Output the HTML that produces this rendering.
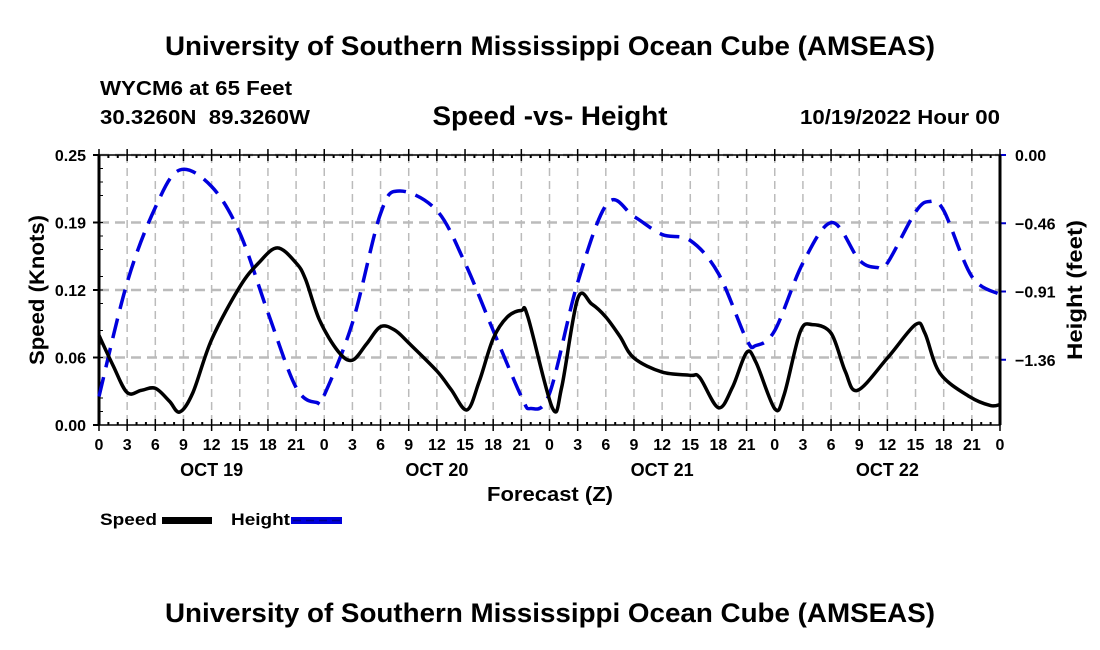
<!DOCTYPE html>
<html><head><meta charset="utf-8"><style>
html,body{margin:0;padding:0;background:#fff;}
svg{display:block;font-family:"Liberation Sans",Arial,sans-serif;font-weight:bold;}
</style></head><body>
<svg id="chart" width="1100" height="650" viewBox="0 0 1100 650">
<text x="550" y="55" font-size="27" text-anchor="middle" textLength="770" lengthAdjust="spacingAndGlyphs">University of Southern Mississippi Ocean Cube (AMSEAS)</text>
<text x="100" y="95" font-size="20" textLength="192" lengthAdjust="spacingAndGlyphs">WYCM6 at 65 Feet</text>
<text x="100" y="124" font-size="20" textLength="210" lengthAdjust="spacingAndGlyphs">30.3260N&#160;&#160;89.3260W</text>
<text x="550" y="125" font-size="27" text-anchor="middle" textLength="235" lengthAdjust="spacingAndGlyphs">Speed -vs- Height</text>
<text x="1000" y="124" font-size="20" text-anchor="end" textLength="200" lengthAdjust="spacingAndGlyphs">10/19/2022 Hour 00</text>
<g id="grid"></g>
<g id="axes"></g>
<g id="series"></g>
<text x="550" y="501" font-size="20" text-anchor="middle" textLength="126" lengthAdjust="spacingAndGlyphs">Forecast (Z)</text>
<text transform="translate(44,290) rotate(-90)" font-size="21" text-anchor="middle" textLength="150" lengthAdjust="spacingAndGlyphs">Speed (Knots)</text>
<text transform="translate(1082,290) rotate(-90)" font-size="21" text-anchor="middle" textLength="140" lengthAdjust="spacingAndGlyphs">Height (feet)</text>
<g>
<text x="100" y="525" font-size="17" textLength="57" lengthAdjust="spacingAndGlyphs">Speed</text>
<rect x="162" y="517" width="50" height="7" fill="#000"/>
<text x="231" y="525" font-size="17" textLength="59" lengthAdjust="spacingAndGlyphs">Height</text>
<rect x="291" y="517" width="51" height="7" fill="#0000dd"/>
<line x1="293" y1="520.5" x2="342" y2="520.5" stroke="#000088" stroke-width="1.5" stroke-dasharray="8,5"/>
</g>
<text x="550" y="622" font-size="27" text-anchor="middle" textLength="770" lengthAdjust="spacingAndGlyphs">University of Southern Mississippi Ocean Cube (AMSEAS)</text>
</svg>
<script>
const speedHours=[0,1.5,3,4.5,6,7.5,8.6,10,12,15,17,19,21,22,23.5,25.5,27,28.5,30,31.5,33,36,37.5,39.2,40.5,42,43.5,45,45.7,48.3,49.3,51,52.5,54,55.5,57,60,63,64,66,67.5,69,70,72,73,74.7,76,78,79.5,80.8,84,87,88,89.6,92.8,95,96];
const speedValues=[0.083,0.055,0.030,0.032,0.034,0.022,0.012,0.030,0.079,0.128,0.150,0.164,0.150,0.135,0.097,0.068,0.060,0.075,0.091,0.088,0.076,0.050,0.033,0.014,0.040,0.080,0.100,0.106,0.100,0.016,0.035,0.117,0.112,0.100,0.082,0.062,0.049,0.046,0.044,0.016,0.035,0.067,0.058,0.015,0.028,0.086,0.093,0.085,0.050,0.032,0.062,0.093,0.085,0.048,0.026,0.018,0.019];
const heightHours=[0,3,6,8.6,12,15,18,21,23.2,24,27,30,32,36,39,42,45,46,48,51,54.2,57,60,63,66,69,70,72,75,78.1,81,82.9,84,87,88.5,90,93,96];
const heightValues=[-1.61,-0.85,-0.35,-0.10,-0.21,-0.52,-1.05,-1.55,-1.65,-1.60,-1.12,-0.39,-0.24,-0.37,-0.72,-1.17,-1.61,-1.69,-1.59,-0.85,-0.32,-0.41,-0.53,-0.57,-0.79,-1.23,-1.27,-1.17,-0.72,-0.45,-0.70,-0.75,-0.72,-0.38,-0.31,-0.37,-0.81,-0.93];
const leftTicks=[0,0.0625,0.125,0.1875,0.25];
const leftTickLabels=["0.00","0.06","0.12","0.19","0.25"];
const rightTicks=[0,-0.455,-0.91,-1.365];
const rightTickLabels=["0.00","\u22120.46","\u22120.91","\u22121.36"];
const dayLabels=["OCT 19","OCT 20","OCT 21","OCT 22"];
const hourLabels=["0","3","6","9","12","15","18","21"];

const X0=99,X1=1000,Y0=425,Y1=155,HMAX=96;
const xs=h=>X0+(X1-X0)*h/HMAX;
const yl=v=>Y0-(Y0-Y1)*v/0.25;
const yr=v=>Y1+(Y0-Y1)*(-v)/1.8;
const NS="http://www.w3.org/2000/svg";
function mk(tag,attrs,parent){const e=document.createElementNS(NS,tag);for(const k in attrs)e.setAttribute(k,attrs[k]);parent.appendChild(e);return e;}
const grid=document.getElementById('grid'),axes=document.getElementById('axes'),series=document.getElementById('series');

for(let h=3;h<HMAX;h+=3){
  const l=mk('line',{x1:xs(h),x2:xs(h),y1:Y1,y2:Y0,stroke:'#bbb','stroke-width':1.5,'stroke-dasharray':'8,5'},grid);
  
  
}
leftTicks.forEach((v,i)=>{
  if(i>0){const l=mk('line',{x1:X0,x2:X1,y1:yl(v),y2:yl(v),stroke:'#bbb','stroke-width':2.5,'stroke-dasharray':'10,6'},grid);
  
  }
  const t=mk('line',{x1:X0-6,x2:X0,y1:yl(v),y2:yl(v),stroke:'#000','stroke-width':2},axes);
  
  
  const tx=mk('text',{x:X0-13,y:yl(v)+6,'font-size':16,'text-anchor':'end'},axes);
  tx.textContent=leftTickLabels[i];
  
  
});
for(let k=1;k<20;k++){if(k%4===0)continue;const v=0.25*k/20;
  const t=mk('line',{x1:X0,x2:X0+4,y1:yl(v),y2:yl(v),stroke:'#000','stroke-width':1},axes);
  
  }
rightTicks.forEach((v,i)=>{
  const t=mk('line',{x1:X1,x2:X1+6,y1:yr(v),y2:yr(v),stroke:'#0000cc','stroke-width':2},axes);
  
  
  const tx=mk('text',{x:X1+15,y:yr(v)+6,'font-size':16},axes);
  tx.textContent=rightTickLabels[i];
  
  
});
for(let h=0;h<=HMAX;h++){
  const major=h%3===0;
  [Y0,Y1].forEach(y=>{
    const d=y===Y0?-1:1;
    const t=mk('line',{x1:xs(h),x2:xs(h),y1:major?y-6:y,y2:major?y+6:y+d*3,stroke:'#000','stroke-width':major?1.5:2},axes);
    
    
  });
  if(major){
    const tx=mk('text',{x:xs(h),y:450,'font-size':16,'text-anchor':'middle'},axes);
    tx.textContent=hourLabels[(h/3)%8];
    
    
  }
}
dayLabels.forEach((d,i)=>{
  const tx=mk('text',{x:xs(i*24+12),y:476,'font-size':18,'text-anchor':'middle'},axes);
  tx.textContent=d;
  
  
});
const fr=mk('rect',{x:X0,y:Y1,width:X1-X0,height:Y0-Y1,fill:'none',stroke:'#000','stroke-width':1.5},axes);


mk('line',{x1:X0,x2:X0,y1:Y1,y2:Y0,stroke:'#000','stroke-width':3},axes);
mk('line',{x1:X1,x2:X1,y1:Y1,y2:Y0,stroke:'#000','stroke-width':3},axes);

function smooth(pts){
  let d='M'+pts[0][0].toFixed(1)+','+pts[0][1].toFixed(1);
  for(let i=0;i<pts.length-1;i++){
    const p0=pts[Math.max(0,i-1)],p1=pts[i],p2=pts[i+1],p3=pts[Math.min(pts.length-1,i+2)];
    const c1=[p1[0]+(p2[0]-p0[0])/6,p1[1]+(p2[1]-p0[1])/6];
    const c2=[p2[0]-(p3[0]-p1[0])/6,p2[1]-(p3[1]-p1[1])/6];
    d+=' C'+c1.map(n=>n.toFixed(1))+' '+c2.map(n=>n.toFixed(1))+' '+p2.map(n=>n.toFixed(1));
  }
  return d;
}
const hp=heightHours.map((h,i)=>[xs(h),yr(heightValues[i])]);
const hl=mk('path',{d:smooth(hp),fill:'none',stroke:'#0000dd','stroke-width':3.5,'stroke-dasharray':'20,10'},series);


const sp=speedHours.map((h,i)=>[xs(h),yl(speedValues[i])]);
const sl=mk('path',{d:smooth(sp),fill:'none',stroke:'#000','stroke-width':3.5,'stroke-linejoin':'round'},series);


</script>
</body></html>
